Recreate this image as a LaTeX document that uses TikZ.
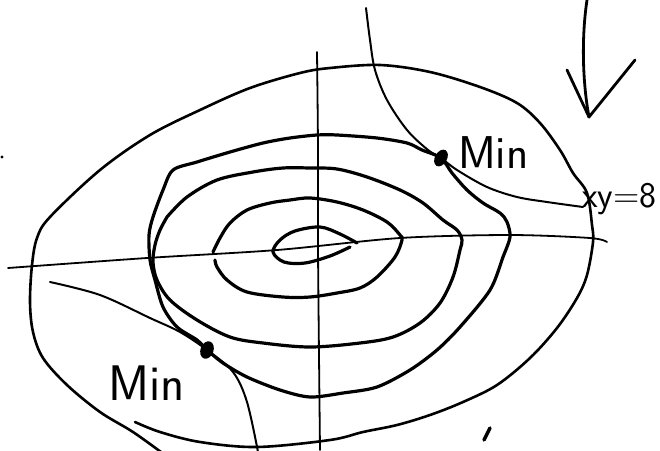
\documentclass[tikz,border=0pt]{standalone}
\usetikzlibrary{shapes.geometric}
\begin{document}
\begin{tikzpicture}[x=1pt,y=-1pt,
  contour/.style={line width=3.2pt, line cap=round, line join=round},
  outerline/.style={line width=2.6pt, line cap=round, line join=round},
  saddle/.style={line width=2pt, line cap=round, line join=round},
  axisline/.style={line width=1.8pt, line cap=round},
  blob/.style={ellipse, fill=black, inner sep=0pt, minimum width=12pt, minimum height=18pt},
  lab/.style={font=\sffamily\fontsize{46}{46}\selectfont, inner sep=0pt},
  biglab/.style={font=\sffamily\fontsize{50}{50}\selectfont, inner sep=0pt},
  smalllab/.style={font=\sffamily\fontsize{36}{36}\selectfont, inner sep=0pt}]
\useasboundingbox (0,0) rectangle (660,450);
\clip (0,0) rectangle (660,450);

% axes
\draw[axisline] plot[smooth, tension=0.5] coordinates {(317,52) (318,150) (318,250) (320,450)};
\draw[axisline] plot[smooth, tension=0.5] coordinates {(8,268) (147,258) (277,250) (400,238) (510,235) (590,238) (607,242)};

% outer oval
\draw[outerline] plot[smooth, tension=0.55] coordinates {(135,422) (160,432) (200,442) (257,447) (330,440) (363,432) (397,425) (430,415) (463,402) (497,385) (530,358) (557,328) (577,298) (587,275) (593,242) (592,225) (587,193) (573,173) (560,150) (540,123) (517,103) (480,87) (430,72) (380,65) (330,68) (300,73) (250,88) (200,110) (150,135) (100,170) (50,217) (37,238) (32,265) (30,302) (33,332) (43,358) (67,385) (100,412) (133,432) (165,455)};

% contours
\draw[contour] plot[smooth, tension=0.55] coordinates {(357,243) (340,234) (320,227) (295,231) (280,240) (273,252) (284,262) (305,263) (330,256) (350,247)};
\draw[contour] plot[smooth, tension=0.55] coordinates {(213,252) (220,238) (230,223) (247,210) (270,203) (290,200) (310,198) (337,202) (363,210) (387,222) (400,235) (402,240) (395,257) (377,277) (360,288) (337,293) (310,297) (283,297) (247,292) (227,280) (217,267) (215,260)};
\draw[contour] plot[smooth, tension=0.55] coordinates {(167,217) (187,197) (217,180) (253,172) (283,168) (310,168) (337,169) (367,177) (400,190) (423,203) (443,220) (457,230) (462,240) (460,250) (453,277) (440,303) (420,323) (393,337) (360,343) (310,347) (263,343) (230,337) (197,320) (170,300) (157,280) (153,262) (155,245) (160,230) (167,217)};
\draw[contour] plot[smooth, tension=0.5] coordinates {(207,350) (197,340) (177,327) (163,307) (155,280) (150,260) (149,235) (153,217) (163,190) (173,170) (197,162) (230,152) (263,143) (290,138) (317,135) (337,135) (377,138) (407,143) (422,150) (441,158) (452,173) (467,190) (483,203) (500,213) (507,222) (510,237) (503,257) (490,290) (460,327) (437,350) (410,370) (377,387) (343,393) (310,397) (280,390) (247,377) (223,363) (207,350)};

% saddle curves xy = 8
\draw[saddle] plot[smooth, tension=0.55] coordinates {(366,8) (370,40) (375,70) (387,100) (407,130) (428,150) (441,158) (457,170) (487,187) (517,197) (547,202) (583,207)};
\draw[saddle] plot[smooth, tension=0.55] coordinates {(50,282) (100,295) (150,318) (180,332) (207,350) (233,372) (247,402) (258,452)};

% minimum points
\node[blob, rotate=-30] (minA) at (441,158) {};
\node[blob, rotate=-20, minimum width=13pt] (minB) at (207,350) {};

% labels
\node[lab, anchor=base west] (labA) at (458,168) {Min};
\node[biglab, anchor=base west] (labB) at (108,400) {Min};
\node[smalllab, anchor=base west] (labC) at (582,207) {xy=8};

% arrow
\coordinate (arrTop) at (587,0);
\coordinate (arrTip) at (589,117);
\coordinate (arrL) at (567,70);
\coordinate (arrR) at (635,60);
\draw[contour, line width=2.8pt] (arrTop) .. controls (581,40) and (583,85) .. (arrTip);
\draw[contour, line width=2.8pt] (arrL) -- (arrTip) -- (arrR);

% stray marks
\draw[contour, line width=3.5pt] (484,440) -- (490,428);
\fill (2,157) circle (1.6pt);
\end{tikzpicture}
\end{document}
